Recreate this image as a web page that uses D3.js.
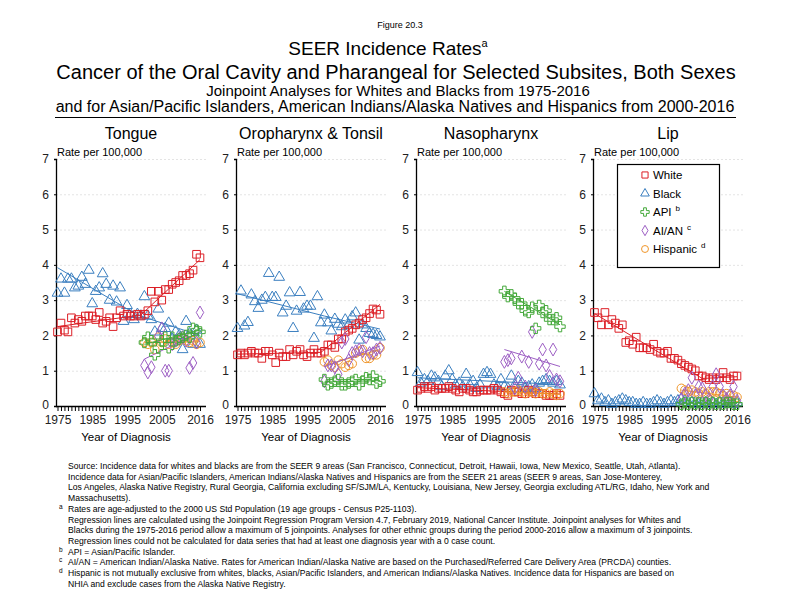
<!DOCTYPE html>
<html><head><meta charset="utf-8">
<script src="https://cdn.jsdelivr.net/npm/d3@7"></script>
<style>body{margin:0;background:#fff} svg{display:block;font-family:"Liberation Sans",Arial,sans-serif}</style>
</head><body><svg id="c" width="792" height="612"></svg>
<script>
// ---------- data ----------
const years = d3.range(1975, 2017);
const yearsRecent = d3.range(2000, 2017);
const yTicks = [0, 1, 2, 3, 4, 5, 6, 7];
const xTickLabels = [1975, 1985, 1995, 2005, 2016];
const panelTitles = ["Tongue", "Oropharynx & Tonsil", "Nasopharynx", "Lip"];
const seriesNames = ["White", "Black", "API", "AI/AN", "Hispanic"];
const seriesSup = ["", "", "b", "c", "d"];

// Tongue
const tongueWhite = [2.1,2.35,2.15,2.1,2.5,2.35,2.45,2.4,2.55,2.55,2.55,2.45,2.65,2.35,2.4,2.5,2.25,2.5,2.7,2.55,2.6,2.55,2.55,2.6,2.55,2.6,2.7,3.25,2.95,3.25,3.0,3.3,3.3,3.45,3.5,3.55,3.7,3.7,3.75,3.85,4.3,4.2];
const tongueBlack = [3.2,3.6,3.2,3.6,3.6,3.35,3.4,3.65,3.45,3.85,2.9,3.25,3.35,3.75,3.45,3.0,3.4,2.95,3.35,2.4,2.85,2.6,2.45,2.6,2.55,3.1,2.55,2.45,2.1,2.75,2.2,2.2,2.35,1.9,2.1,2.0,1.6,2.4,2.05,1.75,2.15,1.75];
const tongueAPI = [1.8,1.95,1.85,1.45,1.65,1.85,1.95,1.65,1.95,1.85,1.9,1.95,2.0,1.95,2.2,2.15,2.1];
const tongueAIAN = [1.15,0.95,1.1,null,1.98,2.2,1.0,1.0,1.75,1.85,1.9,1.95,1.85,1.08,1.22,1.8,2.65];
const tongueHisp = [1.8,1.75,1.8,1.6,1.95,1.8,1.9,1.75,1.8,1.75,1.85,1.9,1.85,1.8,1.85,1.75,1.8];
const tongueTrendWhite = [[1975,2.25],[1999,2.58],[2016,4.15]];
const tongueTrendBlack = [[1975,3.92],[1998,2.58],[2016,2.0]];
const tongueTrendAPI = [[2000,1.75],[2016,2.15]];
const tongueTrendAIAN = [[2000,1.33],[2016,2.1]];
const tongueTrendHisp = [[2000,1.8],[2016,1.82]];

// Oropharynx & Tonsil
const oroWhite = [1.45,1.5,1.45,1.5,1.55,1.5,1.5,1.35,1.55,1.55,1.45,1.23,1.5,1.4,1.4,1.6,1.45,1.55,1.6,1.45,1.4,1.5,1.6,1.5,1.5,1.55,1.73,1.73,1.66,1.9,1.9,2.1,2.15,2.2,2.3,2.35,2.45,2.5,2.62,2.75,2.72,2.6];
const oroBlack = [2.2,3.26,2.27,2.37,3.15,2.96,2.77,3.0,3.08,3.76,3.08,3.08,3.65,2.64,2.83,3.21,2.2,2.69,3.22,2.75,2.83,2.83,1.92,3.1,2.36,2.58,2.36,2.13,2.46,2.32,2.25,2.44,2.3,2.53,2.64,1.87,2.3,2.2,2.06,2.03,2.0,1.96];
const oroAPI = [0.75,0.6,0.65,0.7,0.75,0.6,0.6,0.65,0.7,0.75,0.6,0.7,0.8,0.75,0.85,0.65,0.7];
const oroAIAN = [0.7,1.15,1.15,1.1,0.9,1.8,1.9,1.3,1.5,1.55,1.6,1.55,1.95,1.5,1.5,1.6,1.65];
const oroHisp = [1.25,1.3,1.15,1.1,1.3,1.2,1.1,1.15,1.2,1.5,1.55,1.6,1.35,1.35,1.45,1.45,1.65];
const oroTrendWhite = [[1975,1.47],[1999,1.52],[2016,2.88]];
const oroTrendBlack = [[1975,3.18],[2000,2.55],[2016,2.18]];
const oroTrendAPI = [[2000,0.68],[2016,0.72]];
const oroTrendAIAN = [[2000,1.11],[2016,1.7]];
const oroTrendHisp = [[2000,1.15],[2016,1.6]];

// Nasopharynx
const nasoWhite = [0.45,0.5,0.55,0.5,0.55,0.45,0.5,0.5,0.5,0.55,0.5,0.45,0.4,0.5,0.5,0.45,0.4,0.4,0.45,0.45,0.45,0.45,0.5,0.45,0.4,0.35,0.3,0.45,0.4,0.4,0.35,0.35,0.45,0.4,0.35,0.35,0.35,0.3,0.3,0.3,0.35,0.3];
const nasoBlack = [0.95,0.65,0.75,0.7,0.85,0.8,0.7,0.55,0.85,1.0,0.75,0.6,0.65,0.55,0.9,0.6,0.7,0.5,0.6,0.9,0.95,0.9,0.6,0.55,0.75,0.55,0.5,0.85,0.6,0.7,0.65,0.5,0.55,0.6,0.5,0.65,0.7,0.75,0.7,0.65,0.7,0.6];
const nasoAPI = [3.25,3.1,3.15,3.05,2.9,2.9,2.7,2.65,2.8,2.2,2.85,2.65,2.7,2.45,2.45,2.5,2.25];
const nasoAIAN = [1.25,1.3,1.35,0.5,0.8,1.4,0.55,1.25,2.1,0.45,1.2,1.6,1.15,0.85,1.6,0.75,0.7];
const nasoHisp = [0.4,0.35,0.4,0.4,0.45,0.4,0.35,0.4,0.4,0.35,0.4,0.35,0.35,0.4,0.35,0.3,0.35];
const nasoTrendWhite = [[1975,0.52],[2016,0.34]];
const nasoTrendBlack = [[1975,0.8],[2016,0.61]];
const nasoTrendAPI = [[2000,3.25],[2016,2.3]];
const nasoTrendAIAN = [[2000,1.6],[2016,1.12]];
const nasoTrendHisp = [[2000,0.4],[2016,0.33]];

// Lip
const lipWhite = [2.65,2.5,2.3,2.65,2.3,2.45,2.35,2.2,2.3,1.8,1.85,1.75,1.95,1.65,1.65,1.65,1.6,1.75,1.55,1.5,1.5,1.55,1.35,1.35,1.3,1.2,1.15,1.1,1.05,1.0,0.85,0.85,0.8,0.75,0.8,0.75,0.8,0.95,0.8,0.75,0.85,0.85];
const lipBlack = [0.35,0.15,0.2,0.1,0.15,0.05,0.1,0.15,0.2,0.15,0.1,0.1,0.05,0.05,0.1,0.05,0.05,0.1,0.15,0.1,0.05,0.1,0.15,0.1,0.15,0.2,0.15,0.1,0.1,0.1,0.05,0.1,0.1,0.05,0.1,0.05,0.1,0.1,0.05,0.1,0.05,0.1];
const lipAPI = [0.05,0.1,0.05,0.1,0.05,0.1,0.05,0.1,0.05,0.1,0.05,0.1,0.05,0.1,0.1,0.05,0.05];
const lipAIAN = [0.2,0.35,0.45,0.8,0.3,0.55,0.5,0.3,0.2,0.55,0.9,0.55,0.3,0.2,0.3,0.55,0.15];
const lipHisp = [0.5,0.45,0.4,0.45,0.4,0.35,0.4,0.35,0.4,0.4,0.4,0.35,0.3,0.35,0.3,0.3,0.25];
const lipTrendWhite = [[1975,2.62],[2006,0.78],[2016,0.83]];
const lipTrendAPI = [[2000,0.08],[2016,0.08]];
const lipTrendHisp = [[2000,0.45],[2016,0.25]];

const footnotes = [
  ["", "Source:  Incidence data for whites and blacks are from the SEER 9 areas (San Francisco, Connecticut, Detroit, Hawaii, Iowa, New Mexico, Seattle, Utah, Atlanta)."],
  ["", "Incidence data for Asian/Pacific Islanders, American Indians/Alaska Natives and Hispanics are from the SEER 21 areas (SEER 9 areas, San Jose-Monterey,"],
  ["", "Los Angeles, Alaska Native Registry, Rural Georgia, California excluding SF/SJM/LA, Kentucky, Louisiana, New Jersey, Georgia excluding ATL/RG, Idaho, New York and"],
  ["", "Massachusetts)."],
  ["a", "Rates are age-adjusted to the 2000 US Std Population (19 age groups - Census P25-1103)."],
  ["", "Regression lines are calculated using the Joinpoint Regression Program Version 4.7, February 2019, National Cancer Institute.  Joinpoint analyses for Whites and"],
  ["", "Blacks during the 1975-2016 period allow a maximum of 5 joinpoints. Analyses for other ethnic groups during the period 2000-2016 allow a maximum of 3 joinpoints."],
  ["", "Regression lines could not be calculated for data series that had at least one diagnosis year with a 0 case count."],
  ["b", "API = Asian/Pacific Islander."],
  ["c", "AI/AN = American Indian/Alaska Native.  Rates for American Indian/Alaska Native are based on the Purchased/Referred Care Delivery Area (PRCDA) counties."],
  ["d", "Hispanic is not mutually exclusive from whites, blacks, Asian/Pacific Islanders, and American Indians/Alaska Natives.  Incidence data for Hispanics are based on"],
  ["", "NHIA and exclude cases from the Alaska Native Registry."]
];

// ---------- styling ----------
const colors = ["#dc1f26", "#3b7fc0", "#44a83a", "#9d5fc4", "#f0962a"];
const symTypes = [d3.symbolSquare, d3.symbolTriangle, d3.symbolCross, d3.symbolDiamond, d3.symbolCircle];
const symSizes = [58, 50, 60, 48, 58];

const panels = [
  {title: panelTitles[0], left: 56,  data: [tongueWhite, tongueBlack, tongueAPI, tongueAIAN, tongueHisp], trends: [tongueTrendWhite, tongueTrendBlack, tongueTrendAPI, tongueTrendAIAN, tongueTrendHisp]},
  {title: panelTitles[1], left: 236, data: [oroWhite, oroBlack, oroAPI, oroAIAN, oroHisp], trends: [oroTrendWhite, oroTrendBlack, oroTrendAPI, oroTrendAIAN, oroTrendHisp]},
  {title: panelTitles[2], left: 416, data: [nasoWhite, nasoBlack, nasoAPI, nasoAIAN, nasoHisp], trends: [nasoTrendWhite, nasoTrendBlack, nasoTrendAPI, nasoTrendAIAN, nasoTrendHisp]},
  {title: panelTitles[3], left: 593, data: [lipWhite, lipBlack, lipAPI, lipAIAN, lipHisp], trends: [lipTrendWhite, null, lipTrendAPI, null, lipTrendHisp]}
];

const svg = d3.select("#c");

// ---------- header ----------
svg.append("text").attr("x", 400).attr("y", 28).attr("text-anchor", "middle").attr("font-size", 9).text("Figure 20.3");
const t1 = svg.append("text").attr("x", 388).attr("y", 55).attr("text-anchor", "middle").attr("font-size", 19);
t1.append("tspan").text("SEER Incidence Rates");
t1.append("tspan").attr("font-size", 11).attr("dy", -8).text("a");
svg.append("text").attr("x", 396).attr("y", 79).attr("text-anchor", "middle").attr("font-size", 20)
  .text("Cancer of the Oral Cavity and Pharangeal for Selected Subsites, Both Sexes");
svg.append("text").attr("x", 398).attr("y", 96).attr("text-anchor", "middle").attr("font-size", 15)
  .text("Joinpoint Analyses for Whites and Blacks from 1975-2016");
svg.append("text").attr("x", 395).attr("y", 112).attr("text-anchor", "middle").attr("font-size", 16)
  .text("and for Asian/Pacific Islanders, American Indians/Alaska Natives and Hispanics from 2000-2016");
svg.append("line").attr("x1", 55).attr("x2", 736).attr("y1", 117.5).attr("y2", 117.5).attr("stroke", "#000").attr("stroke-width", 1.2);

// ---------- panels ----------
const y = d3.scaleLinear().domain([0, 7]).range([406, 159]);
const line = (x) => d3.line().x(d => x(d[0])).y(d => y(d[1]));

panels.forEach(p => {
  const x = d3.scaleLinear().domain([1975, 2016]).range([p.left + 1.5, p.left + 144]);
  const g = svg.append("g");
  const plotRight = p.left + 150;

  g.append("text").attr("x", p.left + 75).attr("y", 139).attr("text-anchor", "middle").attr("font-size", 16).text(p.title);
  g.append("text").attr("x", p.left + 1).attr("y", 156).attr("font-size", 11).text("Rate per 100,000");

  // gridlines
  g.selectAll(".grid").data(yTicks.filter(v => v > 0)).join("line")
    .attr("x1", p.left).attr("x2", plotRight).attr("y1", d => y(d) + 0.5).attr("y2", d => y(d) + 0.5)
    .attr("stroke", "#e4e4e4").attr("stroke-dasharray", "2,2");

  // y axis
  const ya = g.append("g").attr("transform", `translate(${p.left},0)`)
    .call(d3.axisLeft(y).tickValues(yTicks).tickSize(2).tickPadding(5).tickFormat(d3.format("d")));
  ya.select(".domain").attr("stroke", "#000").attr("stroke-width", 1.3);
  ya.selectAll("text").attr("font-size", 12).attr("font-family", "Liberation Sans, Arial, sans-serif").attr("fill", "#222");
  ya.selectAll(".tick").filter(d => d === 0).select("text").attr("dy", "0.2em");

  // x axis
  const xa = g.append("g").attr("transform", `translate(0,406)`)
    .call(d3.axisBottom(x).tickValues(years).tickSize(5).tickSizeOuter(0).tickPadding(4)
      .tickFormat(d => xTickLabels.includes(d) ? d : ""));
  xa.select(".domain").attr("d", `M${p.left},0.5H${plotRight}`).attr("stroke", "#000").attr("stroke-width", 1.3);
  xa.selectAll("line").attr("stroke", "#000");
  xa.selectAll("text").attr("font-size", 12).attr("font-family", "Liberation Sans, Arial, sans-serif").attr("fill", "#222");

  g.append("text").attr("x", p.left + 70).attr("y", 441).attr("text-anchor", "middle").attr("font-size", 11.5).text("Year of Diagnosis");

  // series: draw order Black, White, Hispanic, AI/AN, API
  [1, 0, 4, 3, 2].forEach(si => {
    const vals = p.data[si];
    const yrs = vals.length === years.length ? years : yearsRecent;
    const pts = yrs.map((yr, i) => [yr, vals[i]]).filter(d => d[1] != null);
    const sym = d3.symbol().type(symTypes[si]).size(symSizes[si]);
    g.append("g").selectAll("path").data(pts).join("path")
      .attr("transform", d => `translate(${x(d[0])},${y(d[1])})`)
      .attr("d", sym).attr("fill", "none").attr("stroke", colors[si]).attr("stroke-width", 1);
    if (p.trends[si]) {
      g.append("path").attr("d", line(x)(p.trends[si])).attr("fill", "none")
        .attr("stroke", colors[si]).attr("stroke-width", 1);
    }
  });
});

// ---------- legend ----------
const lg = svg.append("g");
lg.append("rect").attr("x", 617.5).attr("y", 164.5).attr("width", 102).attr("height", 103)
  .attr("fill", "#fff").attr("stroke", "#000").attr("stroke-width", 1.2);
seriesNames.forEach((name, i) => {
  const cy = 175 + i * 18.5;
  lg.append("path").attr("transform", `translate(645,${cy})`)
    .attr("d", d3.symbol().type(symTypes[i]).size(symSizes[i] * 0.65))
    .attr("fill", "none").attr("stroke", colors[i]).attr("stroke-width", 1);
  const t = lg.append("text").attr("x", 653).attr("y", cy + 4).attr("font-size", 11.5).text(name);
  if (seriesSup[i]) t.append("tspan").attr("dx", 4).attr("dy", -5).attr("font-size", 8).text(seriesSup[i]);
});

// ---------- footnotes ----------
footnotes.forEach((f, i) => {
  const yy = 469 + i * 10.7;
  if (f[0]) svg.append("text").attr("x", 59).attr("y", yy - 3).attr("font-size", 6.5).text(f[0]);
  svg.append("text").attr("x", 68).attr("y", yy).attr("font-size", 8.6).text(f[1]);
});
</script></body></html>
